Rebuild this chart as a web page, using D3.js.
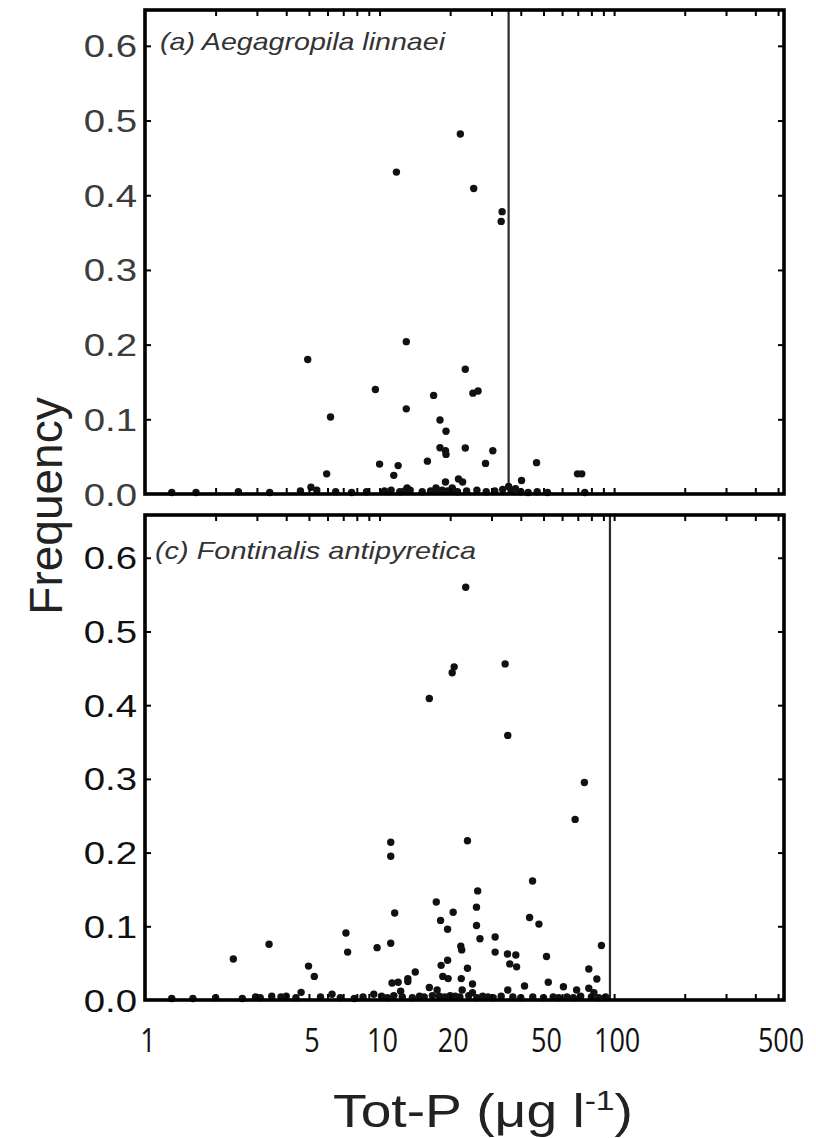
<!DOCTYPE html>
<html><head><meta charset="utf-8">
<script src="https://cdn.jsdelivr.net/npm/d3@7/dist/d3.min.js"></script>
<style>body{margin:0;background:#fff}</style>
</head><body>
<svg id="chart" width="816" height="1138"></svg>
<script>
// ---------- data ----------
const xTickValues = [1, 5, 10, 20, 50, 100, 500];
const xTickLabels = ["1", "5", "10", "20", "50", "100", "500"];
const yTickValues = [0, 0.1, 0.2, 0.3, 0.4, 0.5, 0.6];
const yTickLabels = ["0.0", "0.1", "0.2", "0.3", "0.4", "0.5", "0.6"];
const panelTitles = ["(a) Aegagropila linnaei", "(c) Fontinalis antipyretica"];
const thresholds = [35.5, 96];

// panel (a)
const topX = [22.1, 11.8, 25.2, 33.3, 33.0, 4.94, 13.0, 9.6, 13.0, 6.18, 17.0, 23.2, 25.0, 26.3, 18.1, 19.2,
  18.1, 19.1, 19.2, 23.2, 30.4, 28.3, 16.0, 10.0, 12.0, 11.5, 5.95, 46.7, 40.3, 69.8, 72.8, 19.1, 21.7, 22.6,
  35.5, 5.1, 13.1, 17.4, 20.4];
const topY = [0.482, 0.431, 0.409, 0.378, 0.365, 0.180, 0.204, 0.140, 0.114, 0.103, 0.132, 0.167, 0.135, 0.138, 0.099, 0.084,
  0.062, 0.058, 0.053, 0.0615, 0.058, 0.041, 0.044, 0.040, 0.038, 0.025, 0.027, 0.042, 0.018, 0.027, 0.027, 0.016, 0.020, 0.016,
  0.010, 0.009, 0.008, 0.008, 0.008];
const topZeroX = [1.3, 1.65, 2.5, 3.4, 4.6, 5.4, 6.5, 7.6, 8.8, 10.5, 11.2, 12.2, 12.8, 13.5, 15.2, 16.5, 17.5,
  18.5, 19.5, 20.5, 21.5, 23.5, 26, 28.5, 31, 33.5, 36.5, 38, 40, 43, 47, 52, 75];
const topZeroY = [0.002, 0.002, 0.003, 0.002, 0.004, 0.005, 0.003, 0.002, 0.003, 0.004, 0.005, 0.003, 0.004, 0.005, 0.003, 0.004, 0.006,
  0.005, 0.004, 0.006, 0.003, 0.004, 0.005, 0.003, 0.004, 0.006, 0.005, 0.007, 0.003, 0.002, 0.003, 0.002, 0.002];

// panel (c)
const botX = [23.3, 20.8, 20.4, 16.3, 34.3, 35.2, 2.38, 3.38, 4.98, 5.27, 7.19, 7.31, 9.76, 11.16, 11.16, 11.6,
  11.16, 17.45, 20.6, 18.2, 19.5, 22.2, 22.4, 19.5, 18.3, 23.7, 14.2, 13.2, 13.2, 11.3, 12.0, 18.6, 19.6, 22.3,
  22.5, 23.7, 74.7, 68.2, 44.9, 26.2, 25.9, 25.9, 26.8, 31.1, 43.6, 47.8, 31.1, 35.1, 38.1, 35.9, 38.4, 51.5,
  88.3, 78, 84.4, 24.9, 24.9, 41.5, 52.4, 35.2, 60.8, 69.2, 78, 82, 16.3, 17.6, 12.3, 4.63, 6.27, 9.45, 2.96, 3.47, 4.0];
const botY = [0.560, 0.452, 0.444, 0.409, 0.456, 0.359, 0.0557, 0.0756, 0.046, 0.032, 0.091, 0.065, 0.071, 0.214, 0.195, 0.118,
  0.077, 0.133, 0.119, 0.108, 0.096, 0.073, 0.068, 0.054, 0.047, 0.043, 0.038, 0.029, 0.025, 0.023, 0.024, 0.032, 0.029, 0.029,
  0.0136, 0.216, 0.295, 0.245, 0.1615, 0.148, 0.126, 0.101, 0.083, 0.0855, 0.112, 0.103, 0.065, 0.0624, 0.061, 0.049, 0.045, 0.059,
  0.074, 0.042, 0.0285, 0.0217, 0.010, 0.019, 0.024, 0.0136, 0.018, 0.0136, 0.016, 0.010, 0.017, 0.0136, 0.012, 0.0104, 0.0077, 0.0077, 0.004, 0.005, 0.005];
const botZeroX = [1.3, 1.6, 2.0, 2.6, 3.1, 3.8, 4.4, 5.6, 6.8, 7.8, 8.5, 10.2, 10.8, 11.5, 12.5, 13.8, 14.8, 15.5,
  16.8, 18, 19, 20, 21, 22, 24, 26, 27.5, 29, 30.5, 33, 37, 40, 45, 50, 55, 58, 63, 67, 72, 80, 86, 92];
const botZeroY = [0.002, 0.002, 0.003, 0.002, 0.003, 0.004, 0.003, 0.004, 0.003, 0.002, 0.004, 0.005, 0.003, 0.006, 0.004, 0.003, 0.005, 0.004,
  0.006, 0.005, 0.004, 0.006, 0.005, 0.004, 0.006, 0.003, 0.005, 0.004, 0.003, 0.005, 0.004, 0.003, 0.004, 0.003, 0.004, 0.003, 0.004, 0.003, 0.005, 0.004, 0.003, 0.004];

// ---------- layout ----------
const svg = d3.select("#chart");
const left = 145, right = 784;
const x = d3.scaleLog().domain([1, 530]).range([left, right]);
const minorX = [];
[1, 10, 100].forEach(d => { for (let k = 1; k <= 9; k++) { const v = k * d; if (v > 1 && v <= 500) minorX.push(v); } });

const panels = [
  { top: 10, bottom: 494, ymax: 0.648, xs: topX.concat(topZeroX), ys: topY.concat(topZeroY), labelColor: "#3c3c3c", titleY: 50, titleX: 160, titleW: 285 },
  { top: 515, bottom: 1000, ymax: 0.658, xs: botX.concat(botZeroX), ys: botY.concat(botZeroY), labelColor: "#111", titleY: 559, titleX: 155, titleW: 321 }
];

panels.forEach((p, i) => {
  const y = d3.scaleLinear().domain([0, p.ymax]).range([p.bottom, p.top]);
  const g = svg.append("g");

  // threshold line
  g.append("line")
    .attr("x1", x(thresholds[i])).attr("x2", x(thresholds[i]))
    .attr("y1", p.top).attr("y2", p.bottom)
    .attr("stroke", "#2a2a2a").attr("stroke-width", 2.2);

  // points
  g.selectAll("circle").data(p.xs.map((v, j) => [v, p.ys[j]])).join("circle")
    .attr("cx", d => x(d[0])).attr("cy", d => y(d[1])).attr("r", 3.7).attr("fill", "#111");

  // inward ticks
  const styleAxis = sel => { sel.select(".domain").remove(); sel.selectAll("line").attr("stroke", "#000").attr("stroke-width", 2); };
  g.append("g").attr("transform", `translate(0,${p.top})`)
    .call(d3.axisTop(x).tickValues(minorX).tickSize(-6).tickFormat("")).call(styleAxis);
  g.append("g").attr("transform", `translate(0,${p.bottom})`)
    .call(d3.axisBottom(x).tickValues(minorX).tickSize(-6).tickFormat("")).call(styleAxis);
  g.append("g").attr("transform", `translate(${left},0)`)
    .call(d3.axisLeft(y).tickValues(yTickValues.slice(1)).tickSize(-6).tickFormat("")).call(styleAxis);
  g.append("g").attr("transform", `translate(${right},0)`)
    .call(d3.axisRight(y).tickValues(yTickValues.slice(1)).tickSize(-6).tickFormat("")).call(styleAxis);

  // frame
  g.append("rect").attr("x", left).attr("y", p.top).attr("width", right - left).attr("height", p.bottom - p.top)
    .attr("fill", "none").attr("stroke", "#000").attr("stroke-width", 3.6);

  // y tick labels
  g.selectAll("text.yl").data(yTickValues).join("text").attr("class", "yl")
    .attr("transform", d => `translate(137,${y(d)}) scale(1.2,1)`)
    .attr("dy", "0.36em").attr("text-anchor", "end")
    .attr("font-family", "Liberation Sans, Arial, sans-serif").attr("font-size", 32)
    .attr("fill", p.labelColor)
    .text((d, j) => yTickLabels[j]);

  // panel title
  g.append("text").attr("x", p.titleX).attr("y", p.titleY)
    .attr("font-family", "Liberation Sans, Arial, sans-serif").attr("font-style", "italic").attr("font-size", 24)
    .attr("fill", "#333").attr("textLength", p.titleW).attr("lengthAdjust", "spacingAndGlyphs")
    .text(panelTitles[i]);
});

// x tick labels
svg.selectAll("text.xl").data(xTickValues).join("text").attr("class", "xl")
  .attr("transform", d => `translate(${x(d) + 3},1052) scale(0.82,1)`)
  .attr("text-anchor", "middle")
  .attr("font-family", "Open Sans, sans-serif").attr("font-size", 33).attr("fill", "#111")
  .text((d, j) => xTickLabels[j]);

// axis titles
svg.append("text")
  .attr("transform", "translate(62,506) rotate(-90)")
  .attr("text-anchor", "middle")
  .attr("font-family", "Liberation Sans, Arial, sans-serif").attr("font-size", 46).attr("fill", "#222")
  .text("Frequency");

const xt = svg.append("text")
  .attr("transform", "translate(483,1127) scale(1.2,1)")
  .attr("text-anchor", "middle")
  .attr("font-family", "Liberation Sans, Arial, sans-serif").attr("font-size", 46).attr("fill", "#222");
xt.append("tspan").text("Tot-P (\u03bcg l");
xt.append("tspan").attr("dy", -17).attr("font-size", 28).text("-1");
xt.append("tspan").attr("dy", 17).text(")");
</script>
</body></html>
